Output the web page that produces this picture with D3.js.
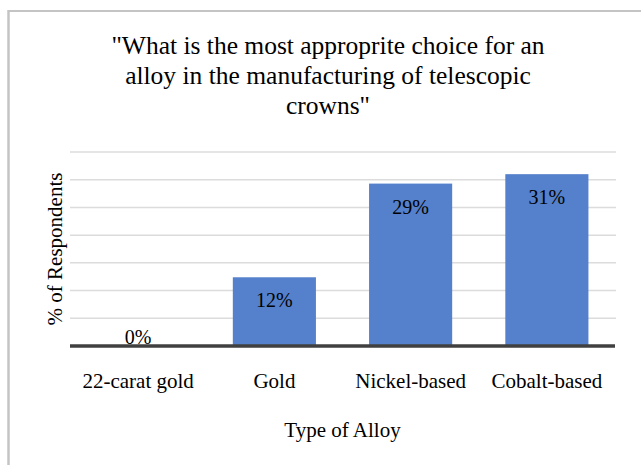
<!DOCTYPE html>
<html>
<head>
<meta charset="utf-8">
<script src="https://cdn.jsdelivr.net/npm/d3@7"></script>
<style>
  body { margin: 0; background: #fff; }
  svg, text, tspan { font-family: "Liberation Serif", "Times New Roman", serif; fill: #000; }
</style>
</head>
<body>
<div class="chart"></div>
<script>
var categories = ["22-carat gold", "Gold", "Nickel-based", "Cobalt-based"];
var values = [0, 12.4, 29.3, 31];
var yTicks = [0, 5, 10, 15, 20, 25, 30, 35];
var titleLines = ["\"What is the most approprite choice for an", "alloy in the manufacturing of telescopic", "crowns\""];

var W = 641, H = 465;
var margin = {top: 152, right: 26, bottom: 119, left: 70},
    width = W - margin.left - margin.right,
    height = H - margin.top - margin.bottom;

var svg = d3.select(".chart").append("svg")
  .attr("width", W).attr("height", H)
  .style("font-family", "'Liberation Serif', 'Times New Roman', serif");

// outer frame (only top and left edges are visible)
svg.append("line").attr("x1", 8.5).attr("y1", 11).attr("x2", W).attr("y2", 11)
  .style("stroke", "#c4c4c4").style("stroke-width", 2);
svg.append("line").attr("x1", 8.5).attr("y1", 10).attr("x2", 8.5).attr("y2", H)
  .style("stroke", "#c4c4c4").style("stroke-width", 2.5);

// title
svg.append("text")
  .attr("text-anchor", "middle")
  .style("font-size", "25.5px")
  .selectAll("tspan").data(titleLines)
  .enter().append("tspan")
  .attr("x", 328)
  .attr("y", function(d, i) { return 54 + i * 30 })
  .text(function(d) { return d });

var g = svg.append("g").attr("transform", "translate(" + margin.left + "," + margin.top + ")");

var x = d3.scaleBand().domain(categories).range([0, width]).paddingInner(0.39).paddingOuter(0.195);
var y = d3.scaleLinear().domain([0, 35]).range([height, 0]);

// gridlines
g.selectAll(".grid").data(yTicks.slice(1))
  .enter().append("line")
  .attr("x1", 0).attr("x2", width + 1)
  .attr("y1", function(d) { return y(d) }).attr("y2", function(d) { return y(d) })
  .style("stroke", "#dcdcdc").style("stroke-width", 1.5);

// bars
g.selectAll(".bar").data(values)
  .enter().append("rect")
  .attr("x", function(d, i) { return x(categories[i]) })
  .attr("width", x.bandwidth())
  .attr("y", function(d) { return y(d) })
  .attr("height", function(d) { return height - y(d) })
  .style("fill", "#5580cb");

// data labels
g.selectAll(".lbl").data(values)
  .enter().append("text")
  .attr("text-anchor", "middle")
  .style("font-size", "20px")
  .attr("x", function(d, i) { return x(categories[i]) + x.bandwidth() / 2 })
  .attr("y", function(d) { return d > 0 ? y(d) + 30 : y(d) - 2 })
  .text(function(d) { return Math.round(d) + "%" });

// x axis
var xAxis = g.append("g").attr("transform", "translate(0," + height + ")")
  .call(d3.axisBottom(x).tickSize(0).tickPadding(0));
xAxis.select(".domain").remove();
xAxis.selectAll("text")
  .attr("dy", null).attr("y", 42)
  .style("font-family", "'Liberation Serif', serif")
  .style("font-size", "21px");

g.append("line")
  .attr("x1", 0).attr("x2", width)
  .attr("y1", height).attr("y2", height)
  .style("stroke", "#404040").style("stroke-width", 3.5);

// axis titles
svg.append("text")
  .attr("text-anchor", "middle")
  .attr("x", margin.left + width / 2).attr("y", 437)
  .style("font-size", "21px")
  .text("Type of Alloy");

svg.append("text")
  .attr("text-anchor", "middle")
  .attr("transform", "translate(62," + (margin.top + height / 2) + ") rotate(-90)")
  .style("font-size", "21px")
  .text("% of Respondents");
</script>
</body>
</html>
